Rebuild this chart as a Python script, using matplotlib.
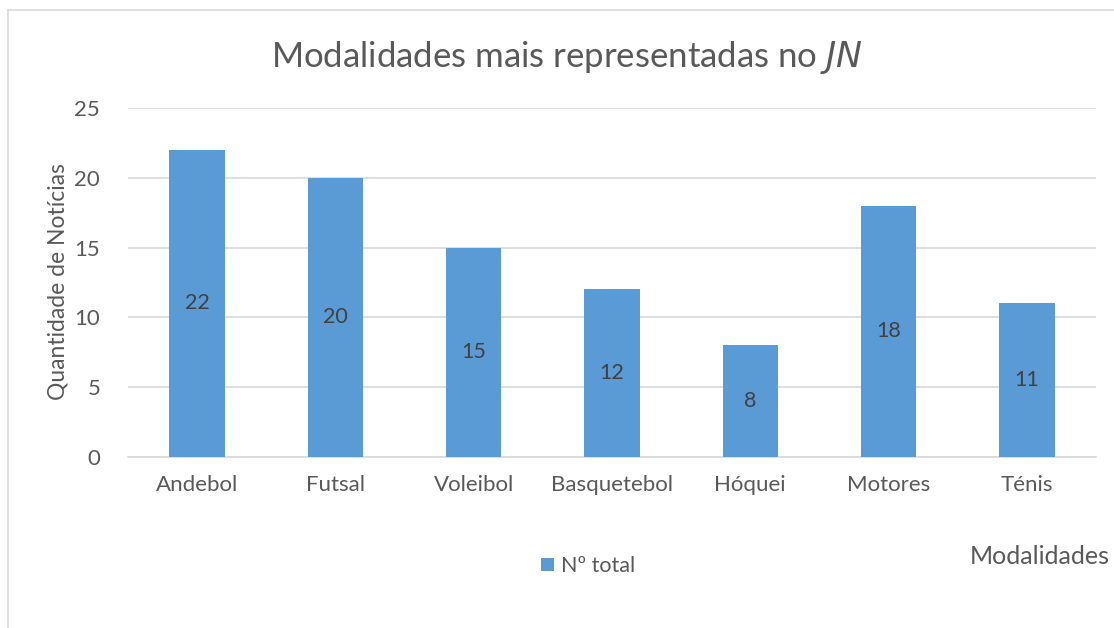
import matplotlib.pyplot as plt
from matplotlib.lines import Line2D
from matplotlib.patches import Patch

# data
modalidades = ["Andebol", "Futsal", "Voleibol", "Basquetebol", "Hóquei", "Motores", "Ténis"]
n_total = [22, 20, 15, 12, 8, 18, 11]

W, H = 1114, 628
plt.rcParams['font.family'] = ['Lato', 'DejaVu Sans']
txt = '#595959'
bar_color = '#5B9BD5'
grid_color = '#D9D9D9'

fig = plt.figure(figsize=[W / 100, H / 100], dpi=100)
# plot area in pixels: left 128, right 1096, top 108, bottom 457
ax = fig.add_axes([128 / W, 1 - 457 / H, (1096 - 128) / W, (457 - 108) / H])

x = range(len(modalidades))
bars = ax.bar(x, n_total, width=0.4, color=bar_color, zorder=3)
for b, v in zip(bars, n_total):
    ax.text(b.get_x() + b.get_width() / 2, v / 2, str(v), ha='center', va='center',
            fontsize=15.5, color='#404040', zorder=4)

ax.set_xlim(-0.5, len(modalidades) - 0.5)
ax.set_ylim(0, 25)
ax.set_yticks([0, 5, 10, 15, 20, 25])
ax.set_xticks(list(x))
ax.set_xticklabels(modalidades)
ax.tick_params(axis='both', length=0, labelsize=16, colors=txt)
ax.tick_params(axis='x', pad=13)
ax.tick_params(axis='y', pad=20)
ax.grid(axis='y', color=grid_color, linewidth=1.2, zorder=0)
for s in ['top', 'right', 'left']:
    ax.spines[s].set_visible(False)
ax.spines['bottom'].set_color(grid_color)
ax.spines['bottom'].set_linewidth(1.2)

ax.set_ylabel("Quantidade de Notícias", fontsize=16.5, color=txt)
ax.yaxis.set_label_coords((69 - 128) / 968, (457 - 282) / 349)

# title with italic JN
fig.text(567 / W, 1 - 58 / H, "Modalidades mais representadas no $\\it{JN}$",
         ha='center', va='center', fontsize=25, color=txt)

fig.text(1110 / W, 1 - 557 / H, "Modalidades", ha='right', va='center', fontsize=18, color=txt)

handles = [Patch(facecolor=bar_color, label="Nº total")]
leg = fig.legend(handles=handles, loc='center', bbox_to_anchor=(588 / W, 1 - 566 / H),
                 frameon=False, fontsize=15.5, handlelength=0.6, handleheight=0.6,
                 handletextpad=0.3)
for t in leg.get_texts():
    t.set_color(txt)

# chart border (left and top visible)
fig.add_artist(Line2D([8 / W, 8 / W], [0, 1 - 10 / H], color=grid_color, linewidth=1.2))
fig.add_artist(Line2D([8 / W, 1], [1 - 10 / H, 1 - 10 / H], color=grid_color, linewidth=1.2))

fig.savefig("out.png", dpi=100)
